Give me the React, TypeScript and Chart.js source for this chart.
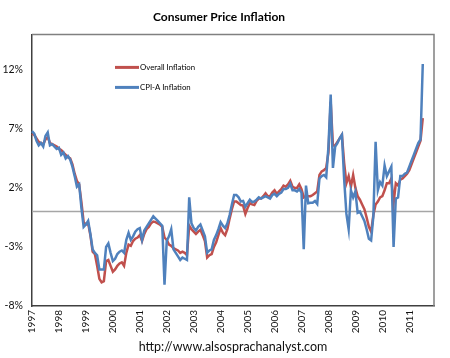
import React, { useEffect, useRef } from 'react';
import { Chart, registerables } from 'chart.js';

Chart.register(...registerables);

const chartTitle = 'Consumer Price Inflation';
const sourceText = 'http://www.alsosprachanalyst.com';
const years = [1997, 1998, 1999, 2000, 2001, 2002, 2003, 2004, 2005, 2006, 2007, 2008, 2009, 2010, 2011];
const monthNames = ['01', '02', '03', '04', '05', '06', '07', '08', '09', '10', '11', '12'];
const yTicks = [-8, -3, 0, 2, 7, 12];

const overallLabel = 'Overall Inflation';
const cpiALabel = 'CPI-A Inflation';

// Monthly year-on-year inflation, Jan 1997 - Jul 2011 (%)
const overallInflation = [
  6.6, 6.5, 6.2, 5.9, 5.8, 5.7, 6.1, 6.3, 5.8, 5.7, 5.6, 5.5,
  5.3, 5.2, 5.0, 4.8, 4.6, 4.5, 4.0, 3.2, 2.6, 2.3, 0.8, -0.9,
  -1.1, -1.0, -2.0, -3.4, -3.6, -4.6, -5.7, -6.0, -5.9, -4.2, -4.1, -4.6,
  -5.1, -4.9, -4.6, -4.4, -4.3, -4.6, -3.5, -2.8, -2.9, -2.5, -2.3, -2.2,
  -2.0, -2.5, -1.9, -1.5, -1.3, -1.0, -0.85, -0.9, -1.0, -1.1, -1.3, -2.2,
  -2.4, -2.8, -2.9, -3.1, -3.2, -3.3, -3.5, -3.4, -3.5, -3.7, -1.2, -1.5,
  -1.7, -1.9, -1.7, -1.55, -2.0, -2.5, -3.9, -3.7, -3.6, -3.0, -2.6, -2.0,
  -1.4, -1.8, -2.0, -1.5, -0.6, 0.2, 0.85, 0.85, 0.7, 0.55, 0.5, -0.2,
  0.3, 0.7, 0.6, 0.55, 0.9, 1.1, 1.1, 1.3, 1.55, 1.3, 1.3, 1.6,
  1.8, 1.5, 1.7, 1.9, 2.2, 2.1, 2.3, 2.6, 2.1, 2.0, 2.0, 2.3,
  1.9, 1.2, 1.3, 1.3, 1.3, 1.4, 1.55, 1.7, 3.1, 3.4, 3.5, 3.7,
  5.0, 9.3, 5.6, 5.6, 5.9, 6.2, 6.5, 4.1, 2.4, 3.0, 2.1, 3.1,
  2.0, 1.3, 1.0, 0.6, 0.2, -0.5, -1.3, -1.7, -0.3, 0.6, 0.85, 1.2,
  1.3, 1.8, 2.4, 2.4, 2.8, 0.7, 2.4, 2.2, 2.7, 2.8, 3.0, 3.2,
  3.5, 4.0, 4.5, 5.0, 5.5, 6.0, 7.9,
];

const cpiAInflation = [
  6.8, 6.6, 6.0, 5.6, 5.8, 5.5, 6.4, 6.7, 5.6, 5.7, 5.5, 5.3,
  5.4, 4.8, 5.0, 4.5, 4.7, 4.4, 3.8, 3.0, 2.1, 2.3, 0.3, -1.3,
  -1.1, -0.8, -1.9, -3.2, -3.5, -3.7, -4.9, -4.9, -4.9, -3.0, -2.7, -3.5,
  -4.2, -4.0, -3.6, -3.4, -3.3, -3.5, -2.4, -1.8, -2.4, -2.1, -1.7, -1.5,
  -1.4, -2.4, -1.6, -1.3, -1.0, -0.7, -0.4, -0.6, -0.8, -1.0, -1.2, -6.2,
  -2.5, -2.1, -1.5, -3.2, -3.5, -3.8, -4.1, -3.9, -4.0, -4.1, 1.2, -1.0,
  -1.4, -1.6, -1.3, -1.1, -1.6, -2.1, -3.5, -3.3, -3.2, -2.4, -2.0, -1.5,
  -0.9, -1.2, -1.4, -1.0, -0.3, 0.6, 1.4, 1.4, 1.2, 0.85, 0.9, 0.4,
  0.7, 1.0, 0.8, 0.85, 1.0, 1.2, 1.1, 1.2, 1.3, 1.2, 1.1, 1.4,
  1.5, 1.3, 1.5, 1.6, 1.9, 1.9, 2.0, 2.35, 1.8, 1.8, 1.7, 1.9,
  1.6, -3.2, 2.2, 0.7, 0.75, 0.75, 0.9, 0.65, 2.8, 3.0, 3.1, 2.9,
  5.5, 9.9, 3.7, 5.5, 5.8, 6.2, 6.5, 2.7, -0.2, -1.5, 1.8, 1.2,
  1.7, -0.1, 0.0, -0.4, -0.8, -1.5, -2.3, -2.45, -0.4, 5.9, 1.8, 2.5,
  2.2, 3.9, 3.0, 3.4, 3.8, -3.0, 1.1, 1.2, 3.0, 3.0, 3.2, 3.3,
  3.8, 4.3, 4.8, 5.3, 5.8, 6.1, 12.5,
];

const monthLabels: string[] = [];
years.forEach((y) => monthNames.forEach((m) => monthLabels.push(`${y}-${m}`)));

const FONT = 'Lato, "Open Sans", sans-serif';
const RED = '#C0504D';
const BLUE = '#4F81BD';

const framePlugin = {
  id: 'frameAndLegend',
  beforeDatasetsDraw(chart: any) {
    const { ctx, chartArea: a, scales } = chart;
    const y0 = scales.y.getPixelForValue(0);
    ctx.save();
    ctx.strokeStyle = '#A6A6A6';
    ctx.lineWidth = 1.5;
    ctx.beginPath();
    ctx.moveTo(a.left, y0);
    ctx.lineTo(a.right, y0);
    ctx.stroke();
    ctx.restore();
  },
  afterDraw(chart: any) {
    const { ctx, chartArea: a } = chart;
    ctx.save();
    ctx.strokeStyle = '#808080';
    ctx.lineWidth = 1.5;
    ctx.beginPath();
    ctx.moveTo(a.left, a.top);
    ctx.lineTo(a.right, a.top);
    ctx.lineTo(a.right, a.bottom);
    ctx.stroke();

    // legend inside plot area
    const items = [
      { label: chart.data.datasets[0].label, color: chart.data.datasets[0].borderColor, y: a.top + 33 },
      { label: chart.data.datasets[1].label, color: chart.data.datasets[1].borderColor, y: a.top + 53 },
    ];
    ctx.font = `7.8px ${FONT}`;
    ctx.textBaseline = 'middle';
    ctx.textAlign = 'left';
    items.forEach((it) => {
      ctx.strokeStyle = it.color;
      ctx.lineWidth = 3;
      ctx.beginPath();
      ctx.moveTo(a.left + 83, it.y);
      ctx.lineTo(a.left + 107, it.y);
      ctx.stroke();
      ctx.fillStyle = '#000';
      ctx.fillText(it.label, a.left + 108, it.y);
    });
    ctx.restore();
  },
};

export default function App() {
  const canvasRef = useRef<HTMLCanvasElement | null>(null);

  useEffect(() => {
    if (!canvasRef.current) return;
    const chart = new Chart(canvasRef.current, {
      type: 'line',
      data: {
        labels: monthLabels,
        datasets: [
          {
            label: overallLabel,
            data: overallInflation,
            borderColor: RED,
            backgroundColor: RED,
            borderWidth: 2.5,
            pointRadius: 0,
            tension: 0,
            order: 1,
          },
          {
            label: cpiALabel,
            data: cpiAInflation,
            borderColor: BLUE,
            backgroundColor: BLUE,
            borderWidth: 2.5,
            pointRadius: 0,
            tension: 0,
            order: 0,
          },
        ],
      },
      options: {
        animation: false,
        responsive: false,
        devicePixelRatio: 1,
        layout: { padding: { left: 0, right: 12, top: 0, bottom: 0 } },
        plugins: {
          legend: { display: false },
          tooltip: { enabled: false },
          title: {
            display: true,
            text: chartTitle,
            color: '#000',
            font: { family: FONT, size: 12, weight: 'bold' },
            padding: { top: 10, bottom: 10 },
          },
        },
        scales: {
          x: {
            type: 'category',
            offset: false,
            grid: { display: false, drawTicks: false },
            border: { display: true, color: '#404040', width: 1.5 },
            ticks: {
              autoSkip: false,
              maxRotation: 90,
              minRotation: 90,
              padding: 4,
              color: '#111',
              font: { family: FONT, size: 10 },
              callback: (_v: any, idx: number) => (idx % 12 === 0 ? monthLabels[idx].slice(0, 4) : ''),
            },
            title: {
              display: true,
              text: sourceText,
              color: '#111',
              font: { family: FONT, size: 12.5 },
              padding: { top: 0, bottom: 4 },
            },
            afterFit: (scale: any) => {
              scale.height = 52;
            },
          },
          y: {
            min: -8,
            max: 15,
            grid: { display: false, drawTicks: false },
            border: { display: true, color: '#404040', width: 1.5 },
            afterBuildTicks: (scale: any) => {
              scale.ticks = yTicks.map((v) => ({ value: v }));
            },
            ticks: {
              padding: 9,
              color: '#111',
              font: { family: FONT, size: 10.5 },
              callback: (v: any) => (v === 0 ? '' : `${v}%`),
            },
            afterFit: (scale: any) => {
              scale.width = 32;
            },
          },
        },
      },
      plugins: [framePlugin],
    });
    return () => chart.destroy();
  }, []);

  return (
    <div style={{ position: 'absolute', left: 0, top: 0, width: 450, height: 358, background: '#fff' }}>
      <canvas ref={canvasRef} width={450} height={358} />
    </div>
  );
}
